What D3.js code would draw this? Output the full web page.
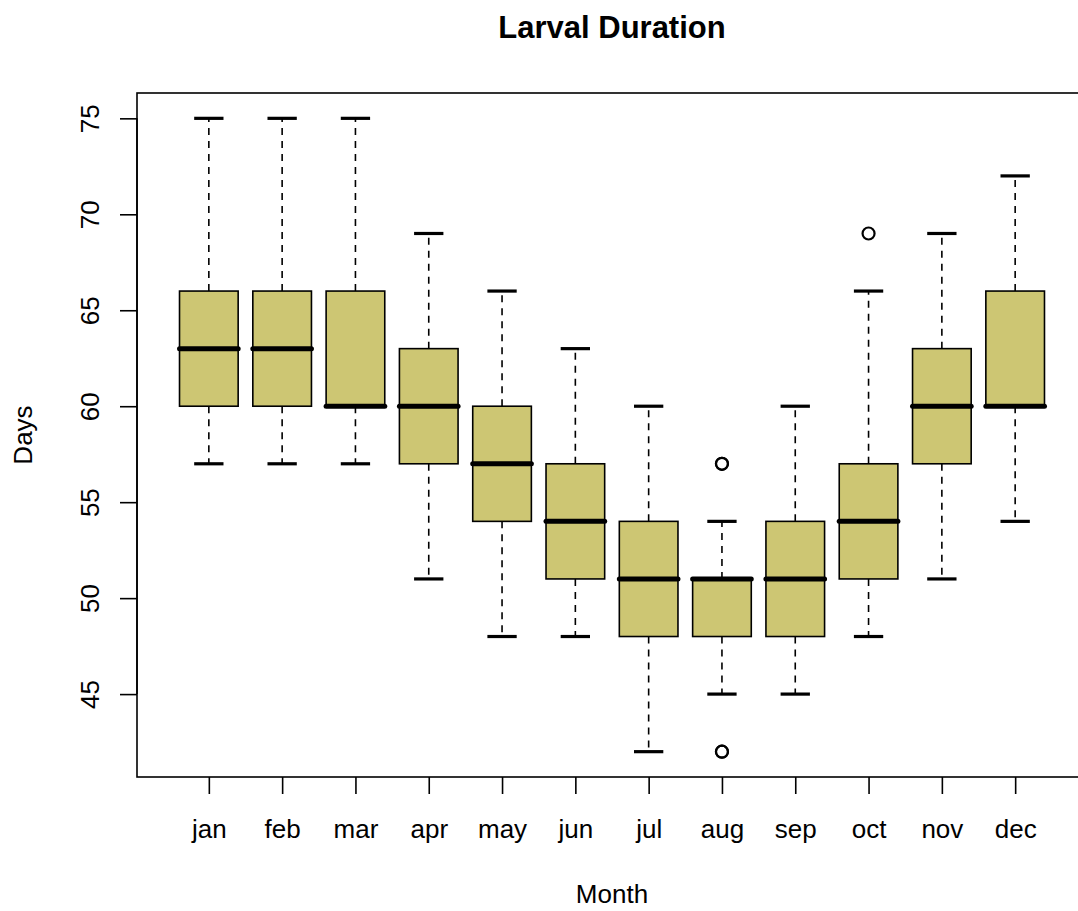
<!DOCTYPE html>
<html>
<head>
<meta charset="utf-8">
<script src="https://cdn.jsdelivr.net/npm/d3@7"></script>
<style>
  html, body { margin: 0; padding: 0; background: #fff; }
  svg { display: block; font-family: "Liberation Sans", Arial, Helvetica, sans-serif; }
</style>
</head>
<body>
<svg id="chart" width="1078" height="911"></svg>
<script>
// Monthly larval duration summaries (days)
const months    = ["jan","feb","mar","apr","may","jun","jul","aug","sep","oct","nov","dec"];
const whiskLow  = [57, 57, 57, 51, 48, 48, 42, 45, 45, 48, 51, 54];
const boxLow    = [60, 60, 60, 57, 54, 51, 48, 48, 48, 51, 57, 60];
const medians   = [63, 63, 60, 60, 57, 54, 51, 51, 51, 54, 60, 60];
const boxHigh   = [66, 66, 66, 63, 60, 57, 54, 51, 54, 57, 63, 66];
const whiskHigh = [75, 75, 75, 69, 66, 63, 60, 54, 60, 66, 69, 72];
// points beyond the whiskers (repeated observations drawn on top of each other)
const outlierMonths = ["aug", "aug", "aug", "aug", "oct"];
const outlierValues = [57, 57, 42, 42, 69];
const yTicks = [45, 50, 55, 60, 65, 70, 75];

const fillColor = "#CDC673";

const svg = d3.select("#chart");
const plot = { left: 137, right: 1087, top: 93, bottom: 777 };

// continuous x scale over box positions 1..12 with R-style padding
const x = d3.scaleLinear()
  .domain([0.02, 12.98])
  .range([plot.left, plot.right]);
const y = d3.scaleLinear()
  .domain([40.68, 76.32])
  .range([plot.bottom, plot.top]);

const unit = x(2) - x(1);
const boxW = unit * 0.8;
const capW = boxW * 0.5;

const stats = months.map((m, i) => ({
  month: m, pos: i + 1,
  wl: whiskLow[i], q1: boxLow[i], med: medians[i], q3: boxHigh[i], wh: whiskHigh[i]
}));
const outliers = outlierMonths.map((m, i) => ({ month: m, value: outlierValues[i] }));

const g = svg.append("g");

const groups = g.selectAll("g.box").data(stats).enter().append("g").attr("class", "box");

// dashed whiskers
groups.append("line")
  .attr("x1", d => x(d.pos)).attr("x2", d => x(d.pos))
  .attr("y1", d => y(d.q3)).attr("y2", d => y(d.wh))
  .attr("stroke", "#000").attr("stroke-width", 1.6).attr("stroke-dasharray", "7,6");
groups.append("line")
  .attr("x1", d => x(d.pos)).attr("x2", d => x(d.pos))
  .attr("y1", d => y(d.q1)).attr("y2", d => y(d.wl))
  .attr("stroke", "#000").attr("stroke-width", 1.6).attr("stroke-dasharray", "7,6");

// staples
["wh", "wl"].forEach(k => {
  groups.append("line")
    .attr("x1", d => x(d.pos) - capW / 2).attr("x2", d => x(d.pos) + capW / 2)
    .attr("y1", d => y(d[k])).attr("y2", d => y(d[k]))
    .attr("stroke", "#000").attr("stroke-width", 3.2);
});

// boxes
groups.append("rect")
  .attr("x", d => x(d.pos) - boxW / 2)
  .attr("width", boxW)
  .attr("y", d => y(d.q3))
  .attr("height", d => y(d.q1) - y(d.q3))
  .attr("fill", fillColor)
  .attr("stroke", "#000").attr("stroke-width", 1.6);

// medians
groups.append("line")
  .attr("x1", d => x(d.pos) - boxW / 2).attr("x2", d => x(d.pos) + boxW / 2)
  .attr("y1", d => y(d.med)).attr("y2", d => y(d.med))
  .attr("stroke", "#000").attr("stroke-width", 5).attr("stroke-linecap", "round");

// outliers
g.selectAll("circle.out").data(outliers).enter().append("circle")
  .attr("class", "out")
  .attr("cx", d => x(months.indexOf(d.month) + 1))
  .attr("cy", d => y(d.value))
  .attr("r", 6)
  .attr("fill", "none").attr("stroke", "#000").attr("stroke-width", 2.2);

// plot frame
svg.append("rect")
  .attr("x", plot.left).attr("y", plot.top)
  .attr("width", plot.right - plot.left).attr("height", plot.bottom - plot.top)
  .attr("fill", "none").attr("stroke", "#000").attr("stroke-width", 1.6);

// x axis
const xAxis = d3.axisBottom(x)
  .tickValues(stats.map(d => d.pos))
  .tickFormat((d, i) => months[i])
  .tickSize(17).tickSizeOuter(0).tickPadding(26);
const xg = svg.append("g").attr("transform", `translate(0,${plot.bottom})`).call(xAxis);
xg.select(".domain").remove();
xg.selectAll(".tick line").attr("stroke-width", 1.6);
xg.selectAll(".tick text").attr("font-size", 26).attr("fill", "#000")
  .attr("font-family", "Liberation Sans, Arial, sans-serif");

// y axis
const yAxis = d3.axisLeft(y).tickValues(yTicks).tickSize(17).tickSizeOuter(0).tickPadding(0);
const yg = svg.append("g").attr("transform", `translate(${plot.left},0)`).call(yAxis);
yg.select(".domain")
  .attr("d", `M0,${y(45)}V${y(75)}`).attr("stroke-width", 1.6);
yg.selectAll(".tick line").attr("stroke-width", 1.6);
yg.selectAll(".tick text")
  .attr("font-size", 26).attr("fill", "#000")
  .attr("font-family", "Liberation Sans, Arial, sans-serif")
  .attr("x", null).attr("dy", null)
  .attr("text-anchor", "middle")
  .attr("transform", "translate(-38,0) rotate(-90)");

// titles
svg.append("text")
  .attr("x", 612).attr("y", 38)
  .attr("text-anchor", "middle")
  .attr("font-size", 31).attr("font-weight", "bold")
  .text("Larval Duration");

svg.append("text")
  .attr("x", 612).attr("y", 903)
  .attr("text-anchor", "middle")
  .attr("font-size", 26)
  .text("Month");

svg.append("text")
  .attr("transform", `translate(32,${(plot.top + plot.bottom) / 2}) rotate(-90)`)
  .attr("text-anchor", "middle")
  .attr("font-size", 26)
  .text("Days");
</script>
</body>
</html>
